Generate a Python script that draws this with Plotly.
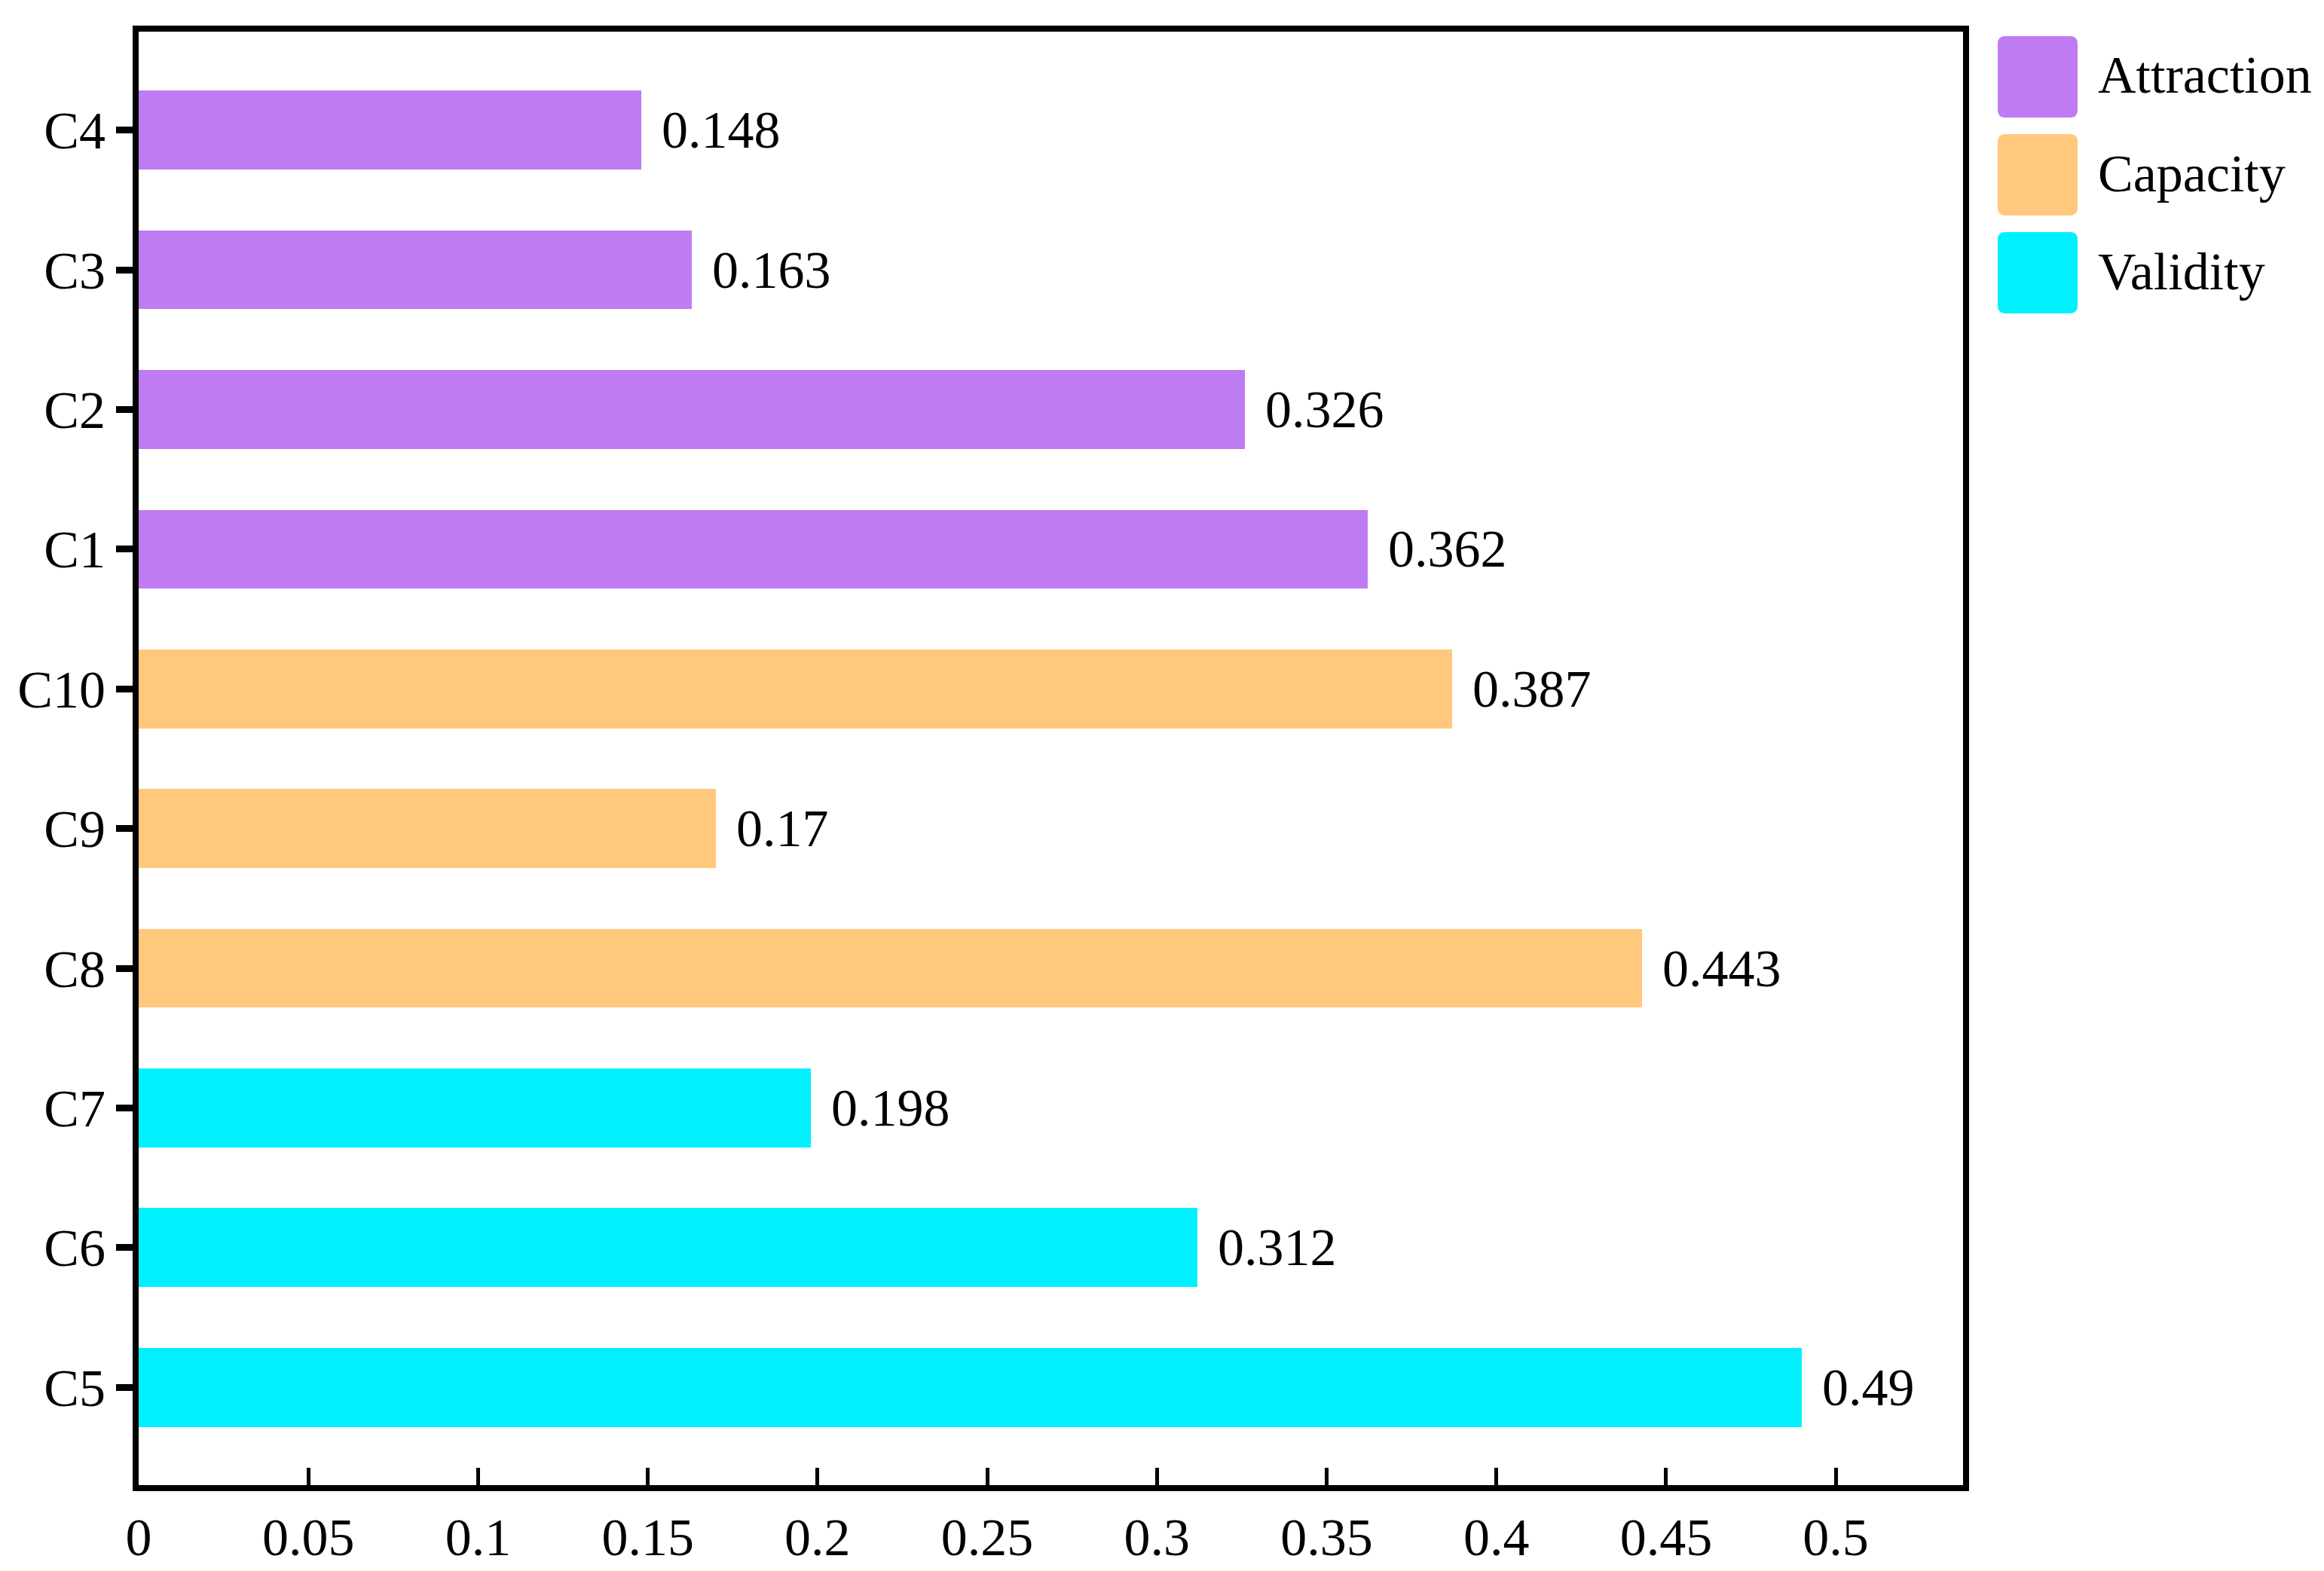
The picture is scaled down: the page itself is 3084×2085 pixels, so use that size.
import plotly.graph_objects as go

# ---- data ----
categories = ["C5", "C6", "C7", "C8", "C9", "C10", "C1", "C2", "C3", "C4"]  # bottom -> top
values = [0.49, 0.312, 0.198, 0.443, 0.17, 0.387, 0.362, 0.326, 0.163, 0.148]
groups = ["Validity", "Validity", "Validity", "Capacity", "Capacity", "Capacity",
          "Attraction", "Attraction", "Attraction", "Attraction"]
legend_order = ["Attraction", "Capacity", "Validity"]
group_colors = {"Attraction": "#BF7BF1", "Capacity": "#FFC87C", "Validity": "#00F0FE"}
x_tick_vals = [0, 0.05, 0.1, 0.15, 0.2, 0.25, 0.3, 0.35, 0.4, 0.45, 0.5]
x_tick_text = ["0", "0.05", "0.1", "0.15", "0.2", "0.25", "0.3", "0.35", "0.4", "0.45", "0.5"]

# ---- layout geometry (pixels) ----
W, H = 3084, 2085
L, R, T, B = 176, 2597, 34, 1963
FONT = "Liberation Serif"
FS = 70


def px_x(p):
    return (p - L) / (R - L)


def px_y(p):
    return (B - p) / (B - T)


fig = go.Figure()
for g in legend_order:
    ys = [c for c, gg in zip(categories, groups) if gg == g]
    xs = [v for v, gg in zip(values, groups) if gg == g]
    fig.add_trace(go.Bar(
        x=xs, y=ys, orientation="h", name=g,
        marker=dict(color=group_colors[g], line=dict(width=0)),
        width=0.565, showlegend=False, cliponaxis=False,
    ))

# value labels
annotations = []
for c, v in zip(categories, values):
    annotations.append(dict(
        x=v, y=c, xref="x", yref="y", text=str(v), showarrow=False,
        xanchor="left", yanchor="middle", xshift=25,
        font=dict(family=FONT, size=FS, color="black"),
    ))

# custom legend with large rounded swatches
shapes = []
sw_x0, sw_x1 = 2643, 2749
r = 10
for i, g in enumerate(legend_order):
    y0 = 40 + 130 * i
    y1 = y0 + 108
    pts = [
        ("M", sw_x0 + r, y0), ("L", sw_x1 - r, y0), ("Q", sw_x1, y0, sw_x1, y0 + r),
        ("L", sw_x1, y1 - r), ("Q", sw_x1, y1, sw_x1 - r, y1), ("L", sw_x0 + r, y1),
        ("Q", sw_x0, y1, sw_x0, y1 - r), ("L", sw_x0, y0 + r), ("Q", sw_x0, y0, sw_x0 + r, y0),
    ]
    path = ""
    for p in pts:
        cmd = p[0]
        coords = p[1:]
        s = []
        for k in range(0, len(coords), 2):
            s.append(f"{px_x(coords[k]):.5f},{px_y(coords[k + 1]):.5f}")
        path += cmd + " ".join(s) + " "
    path += "Z"
    shapes.append(dict(type="path", xref="paper", yref="paper", path=path,
                       fillcolor=group_colors[g], line=dict(width=0), layer="above"))
    annotations.append(dict(
        x=px_x(2774), y=px_y((y0 + y1) / 2 - 2), xref="paper", yref="paper",
        text=g, showarrow=False, xanchor="left", yanchor="middle",
        font=dict(family=FONT, size=FS, color="black"),
    ))

fig.update_layout(
    width=W, height=H,
    margin=dict(l=L, r=W - R, t=T, b=H - B, pad=0),
    paper_bgcolor="white", plot_bgcolor="white",
    barmode="overlay", bargap=0,
    showlegend=False,
    shapes=shapes, annotations=annotations,
    font=dict(family=FONT, size=FS, color="black"),
)
fig.update_xaxes(
    range=[0, 0.5375], tickvals=x_tick_vals, ticktext=x_tick_text,
    ticks="inside", ticklen=23, tickwidth=5, tickcolor="black",
    showline=True, linewidth=8, linecolor="black", mirror=True,
    showgrid=False, zeroline=False, ticklabelstandoff=1,
    tickfont=dict(family=FONT, size=FS, color="black"),
)
fig.update_yaxes(
    type="category", categoryorder="array", categoryarray=categories,
    range=[-0.70, 9.705],
    ticks="outside", ticklen=22, tickwidth=9, tickcolor="black",
    showline=True, linewidth=8, linecolor="black", mirror=True,
    showgrid=False, zeroline=False,
    tickfont=dict(family=FONT, size=FS, color="black"),
)

fig.write_html("out.html")
